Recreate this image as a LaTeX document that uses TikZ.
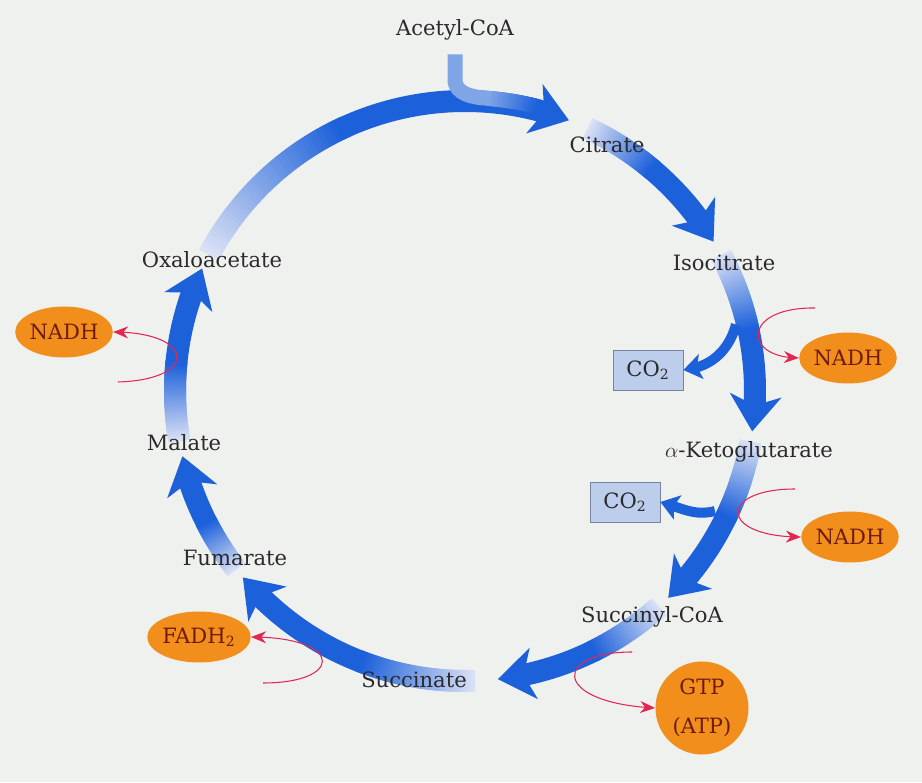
\documentclass[tikz,border=0pt]{standalone}
\usepackage{fontspec}
\setmainfont{DejaVu Serif}
\usetikzlibrary{arrows.meta,shapes.geometric,bending}

\definecolor{page}{RGB}{239,241,238}
\definecolor{cycdark}{RGB}{28,96,218}
\definecolor{cycpale}{RGB}{218,225,245}
\definecolor{acetyl}{RGB}{128,165,230}
\definecolor{carrier}{RGB}{241,142,28}
\definecolor{carriertext}{RGB}{110,28,18}
\definecolor{gasfill}{RGB}{188,206,236}
\definecolor{gasdraw}{RGB}{118,132,158}
\definecolor{loopred}{RGB}{226,40,82}
\definecolor{labeltext}{RGB}{42,42,42}

\tikzset{
    band/.style={line width=0.44cm},
    bandtip/.style={-{Stealth[length=0.72cm,width=1.02cm,inset=0.2cm]}},
    metab/.style={text=labeltext,font=\fontsize{12}{14}\selectfont},
    carrierbox/.style={ellipse,fill=carrier,text=carriertext,inner sep=0pt,
        minimum width=1.94cm,minimum height=1.02cm,font=\fontsize{12}{14}\selectfont},
    gas/.style={draw=gasdraw,fill=gasfill,text=labeltext,inner sep=0pt,
        minimum width=1.4cm,minimum height=0.8cm,font=\fontsize{12}{14}\selectfont},
    redox/.style={draw=loopred,line width=0.6pt,-{Stealth[length=0.3cm,width=0.24cm]}},
    vent/.style={draw=cycdark,line width=0.2cm,-{Stealth[length=0.36cm,width=0.5cm,inset=0.08cm]}}
}

\def\R{5.8}
%% one step of the cycle: pale where it leaves a label, dark with a head at the next
\newcommand\cycseg[2]{%
    \foreach \k in {0,...,39}{%
        \pgfmathsetmacro\a{#1+(#2-#1)*\k/90}%
        \pgfmathsetmacro\b{#1+(#2-#1)*(\k+2)/90}%
        \pgfmathsetmacro\p{100*\k/39}%
        \draw[band,draw=cycdark!\p!cycpale] (\a:\R) arc[start angle=\a,end angle=\b,radius=\R];
    }%
    \pgfmathsetmacro\a{#1+(#2-#1)*40/90}%
    \draw[band,bandtip,draw=cycdark] (\a:\R) arc[start angle=\a,end angle=#2,radius=\R];
}

\begin{document}
\begin{tikzpicture}
    \fill[page] (0,0) rectangle (18.44,15.64);
    \useasboundingbox (0,0) rectangle (18.44,15.64);

    %% the ring
    \begin{scope}[shift={(9.30,7.82)}]
        \cycseg{152}{69}
        \cycseg{65}{31}
        \cycseg{28}{-8}
        \cycseg{-10}{-45.5}
        \cycseg{-48}{-83.5}
        \cycseg{-88}{-140}
        \cycseg{218}{193}
        \cycseg{190}{155}

        %% acetyl-CoA joining the ring, blending into it
        \foreach \k in {0,...,19}{
            \pgfmathsetmacro\a{85.6-0.5*\k}
            \pgfmathsetmacro\b{85.6-0.5*(\k+2)}
            \pgfmathsetmacro\p{100*\k/19}
            \draw[line width=0.3cm,draw=cycdark!\p!acetyl] (\a:5.87) arc[start angle=\a,end angle=\b,radius=5.87];
        }
    \end{scope}
    \draw[line width=0.3cm,acetyl] (9.10,14.55) -- (9.10,14.05)
        to[out=-90,in=177] (9.76,13.675);

    \node[metab] (acoa) at (9.10,15.04) {Acetyl-CoA};
    \node[metab] (cit) at (12.14,12.74) {Citrate};
    \node[metab] (icit) at (14.48,10.38) {Isocitrate};
    \node[metab] (akg) at (14.98,6.60) {$\alpha$-Ketoglutarate};
    \node[metab] (scoa) at (13.04,3.30) {Succinyl-CoA};
    \node[metab] (succ) at (8.28,2.04) {Succinate};
    \node[metab] (fum) at (4.70,4.48) {Fumarate};
    \node[metab] (mal) at (3.68,6.78) {Malate};
    \node[metab] (oaa) at (4.24,10.44) {Oxaloacetate};

    %% CO2 released
    \node[gas] (co2a) at (12.96,8.24) {CO\textsubscript{2}};
    \node[gas] (co2b) at (12.50,5.60) {CO\textsubscript{2}};
    \coordinate (idhout) at (14.72,9.15);
    \coordinate (kgdout) at (14.30,5.42);
    \draw[vent] (idhout) to[out=-105,in=5] (co2a.east);
    \draw[vent] (kgdout) to[out=-165,in=-15] (co2b.east);

    %% reduced carriers and GTP
    \node[carrierbox] (nadhL) at (1.28,9.00) {NADH};
    \node[carrierbox] (nadhA) at (16.96,8.48) {NADH};
    \node[carrierbox] (nadhB) at (17.00,4.90) {NADH};
    \node[carrierbox] (fadh) at (3.98,2.90) {FADH\textsubscript{2}};
    \node[circle,fill=carrier,text=carriertext,inner sep=0pt,minimum size=1.86cm,
        align=center,font=\fontsize{12}{22}\selectfont] (gtp) at (14.04,1.48) {GTP\\(ATP)};

    \coordinate (mdh) at (2.36,8.00);
    \coordinate (idh) at (16.30,9.48);
    \coordinate (kgd) at (15.90,5.86);
    \coordinate (sdh) at (5.26,1.98);
    \coordinate (scs) at (12.64,2.60);
    \draw[redox] (mdh) .. controls (4.0,8.05) and (3.9,9.0) .. (nadhL.east);
    \draw[redox] (idh) .. controls (14.84,9.5) and (14.84,8.48) .. (nadhA.west);
    \draw[redox] (kgd) .. controls (14.36,5.86) and (14.36,4.90) .. (nadhB.west);
    \draw[redox] (sdh) .. controls (6.88,1.98) and (6.88,2.90) .. (fadh.east);
    \draw[redox] (scs) .. controls (11.04,2.6) and (11.04,1.58) .. (gtp.west);
\end{tikzpicture}
\end{document}
